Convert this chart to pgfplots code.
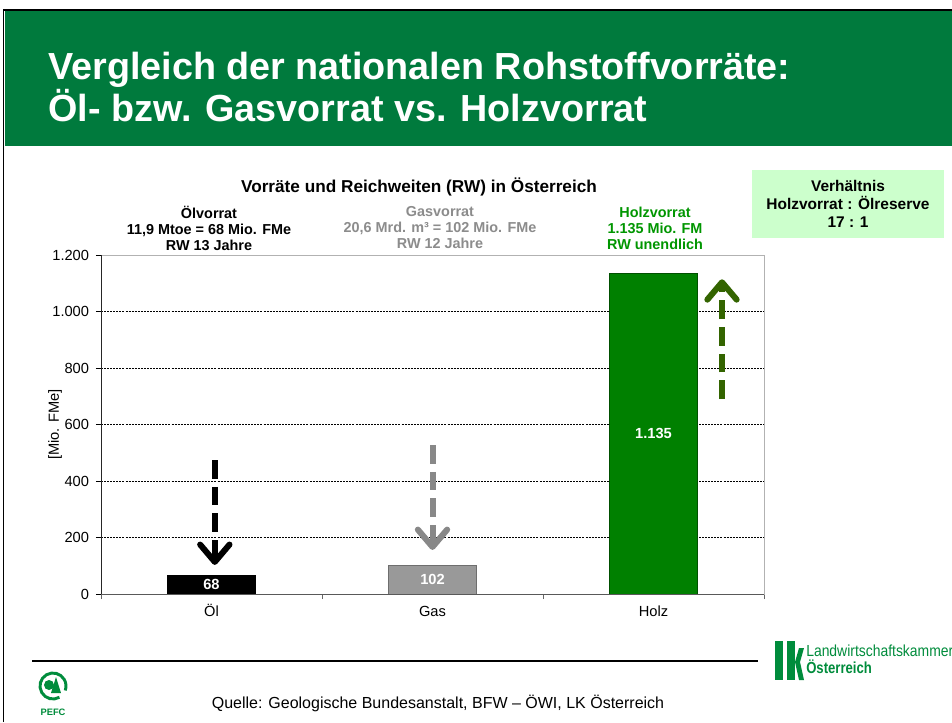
\documentclass[border=0pt]{standalone}
\usepackage{pgfplots}
\pgfplotsset{compat=1.18}
\usepackage{fontspec}
\setmainfont{Liberation Sans}
\usetikzlibrary{arrows.meta}
\definecolor{hdrgreen}{RGB}{0,122,61}
\definecolor{gasgray}{RGB}{153,153,153}
\definecolor{gasedge}{RGB}{110,110,110}
\definecolor{holzgreen}{RGB}{0,128,0}
\definecolor{holzedge}{RGB}{0,80,0}
\definecolor{holztext}{RGB}{0,150,0}
\definecolor{gastext}{RGB}{140,140,140}
\definecolor{arrgray}{RGB}{136,136,136}
\definecolor{arrgreen}{RGB}{51,100,0}
\definecolor{boxgreen}{RGB}{204,255,204}
\definecolor{lkgreen}{RGB}{0,140,60}
\tikzset{bigarrow/.style={line width=4.5pt, dash pattern=on 14pt off 6pt, -{Straight Barb[length=13pt, width=22pt, line width=4.5pt, round]}}}
\begin{document}
\begin{tikzpicture}[x=0.75pt,y=0.75pt]
\useasboundingbox (0,0) rectangle (952,722);
\fill[white] (0,0) rectangle (952,722);
\coordinate (axpos) at (101,128);
% header
\fill[hdrgreen] (5,722-11) rectangle (952,722-146);
\draw[black,line width=1.2pt] (3.5,0) -- (3.5,722-10) -- (952,722-10);
\node[anchor=base west, white, inner sep=0pt, font=\bfseries\fontsize{28.3}{30}\selectfont] at (48,722-80) {Vergleich der nationalen Rohstoffvorräte:};
\node[anchor=base west, white, inner sep=0pt, font=\bfseries\fontsize{28.3}{30}\selectfont] at (48,722-122) {Öl- bzw. Gasvorrat vs. Holzvorrat};
% chart title and column headers
\node[font=\bfseries\fontsize{12.9}{14}\selectfont] at (419,722-187) {Vorräte und Reichweiten (RW) in Österreich};
\node[align=center, inner sep=0pt, font=\bfseries\fontsize{10.8}{12}\selectfont] at (209,722-228) {Ölvorrat\\11,9 Mtoe = 68 Mio. FMe\\RW 13 Jahre};
\node[align=center, inner sep=0pt, text=gastext, font=\bfseries\fontsize{10.8}{12}\selectfont] at (440,722-228) {Gasvorrat\\20,6 Mrd. m³ = 102 Mio. FMe\\RW 12 Jahre};
\node[align=center, inner sep=0pt, text=holztext, font=\bfseries\fontsize{10.8}{12}\selectfont] at (655,722-228) {Holzvorrat\\1.135 Mio. FM\\RW unendlich};
% ratio box
\fill[boxgreen] (752,722-170) rectangle (944,722-238);
\node[align=center, inner sep=0pt, font=\bfseries\fontsize{11.6}{13.5}\selectfont] at (848,722-204) {Verhältnis\\Holzvorrat : Ölreserve\\17 : 1};

\begin{axis}[
  at={(axpos)}, anchor=south west,
  scale only axis, width=497.25pt, height=254.25pt,
  xmin=-0.5, xmax=2.5, ymin=0, ymax=1200,
  clip=false,
  axis line style={draw=gray!60},
  xtick={0,1,2}, xticklabels={Öl,Gas,Holz},
  major x tick style={draw=none},
  minor xtick={-0.5,0.5,1.5,2.5},
  minor x tick style={draw=gray!80!black},
  ytick={0,200,...,1200},
  ytick style={draw=black},
  tick pos=left,
  tick align=outside,
  major tick length=3.75pt, minor tick length=3.75pt,
  scaled y ticks=false,
  /pgf/number format/.cd, use comma, 1000 sep={.}, assume math mode=true,
  /pgfplots/.cd,
  tick label style={font=\fontsize{11}{13}\selectfont},
  yticklabel style={inner sep=0pt, anchor=east, xshift=-5pt},
  xticklabel style={anchor=base, yshift=-13pt},
  ymajorgrids=true,
  major grid style={draw=black, line width=0.45pt, dash pattern=on 1.5pt off 0.8pt},
  ylabel={[Mio. FMe]},
  ylabel style={at={(axis description cs:-0.0694,0.5)}, anchor=center, font=\fontsize{11}{12}\selectfont},
]
\addplot[ybar, bar width=66pt, bar shift=0pt, fill=black, draw=black] coordinates {(0,68)};
\addplot[ybar, bar width=66pt, bar shift=0pt, fill=gasgray, draw=gasedge] coordinates {(1,102)};
\addplot[ybar, bar width=66pt, bar shift=0pt, fill=holzgreen, draw=holzedge] coordinates {(2,1135)};
\draw[black!85] (rel axis cs:0,0) -- (rel axis cs:0,1);
\draw[gray!70!black, line width=0.6pt] (rel axis cs:0,0) -- (rel axis cs:1,0);
\node[white, font=\bfseries\fontsize{11}{13}\selectfont] at (axis cs:0,34) {68};
\node[white, font=\bfseries\fontsize{11}{13}\selectfont] at (axis cs:1,51) {102};
\node[white, font=\bfseries\fontsize{11}{13}\selectfont] at (axis cs:2,567) {1.135};
\draw[black, bigarrow] (axis cs:0.015,474) -- (axis cs:0.015,103);
\draw[arrgray, bigarrow] (axis cs:1.0,527) -- (axis cs:1.0,156);
\draw[arrgreen, bigarrow] (axis cs:2.31,690) -- (axis cs:2.31,1114);
\end{axis}

% footer
\draw[black, line width=0.9pt] (32,722-661) -- (758,722-661);
\node[font=\fontsize{12}{14}\selectfont] at (438,722-703) {Quelle: Geologische Bundesanstalt, BFW – ÖWI, LK Österreich};
% LK logo
\fill[lkgreen] (775,722-641) rectangle (783,722-680);
\fill[lkgreen] (787,722-641) rectangle (795,722-680);
\fill[lkgreen] (795,722-662) -- (799,722-648) -- (804,722-648) -- (800,722-662) -- (804,722-680) -- (799,722-680) -- cycle;
\node[anchor=base west, inner sep=0pt, text=lkgreen, font=\fontsize{12}{12}\selectfont] at (806,722-656) {\scalebox{0.87}[1]{Landwirtschaftskammer}};
\node[anchor=base west, inner sep=0pt, text=lkgreen, font=\bfseries\fontsize{12}{12}\selectfont] at (806,722-673) {\scalebox{0.82}[1]{Österreich}};
% PEFC logo
\draw[lkgreen, line width=2.2pt] (53,722-686) ++(-60:13) arc (-60:-380:13);
\fill[lkgreen] (49,722-685) circle (5);
\fill[lkgreen] (56,722-677) -- (61,722-693) -- (51,722-693) -- cycle;
\node[inner sep=0pt, text=lkgreen, font=\bfseries\fontsize{7}{8}\selectfont] at (53,722-712) {PEFC};
\end{tikzpicture}
\end{document}
